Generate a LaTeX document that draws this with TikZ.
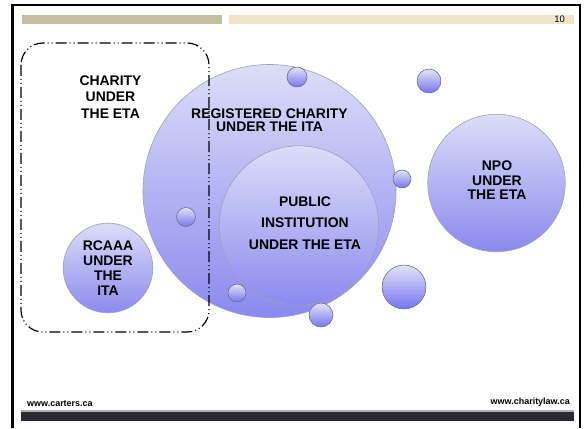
\documentclass[tikz,border=0pt]{standalone}
\usepackage{fontspec}
\setmainfont{Liberation Sans}
\definecolor{bartan}{HTML}{C4BDA0}
\definecolor{barcream}{HTML}{EFE5C9}
\definecolor{footdark}{HTML}{2B2A33}
\definecolor{bubtop}{HTML}{DDDDF9}
\definecolor{bubbot}{HTML}{8A8AEE}
\definecolor{bubline}{HTML}{A0A0B8}

\begin{document}
\begin{tikzpicture}[x=1bp,y=-1bp,
        bubble/.style={circle,draw=bubline,line width=0.6bp,top color=bubtop,bottom color=bubbot,inner sep=0pt,minimum size=#1},
        dot/.style={bubble=#1,draw=bubline!70!black,top color=bubtop!85!white,bottom color=bubbot!85!blue},
        lbl/.style={font=\bfseries\fontsize{14}{#1}\selectfont,align=center,inner sep=0pt,text=black},
        foot/.style={font=\bfseries\fontsize{9}{10}\selectfont,inner sep=0pt,text=black}]
        \useasboundingbox (0,0) rectangle (584,428);

        % slide frame and bars
        \fill (11,4) rectangle (14,428);
        \fill (11,4) rectangle (581,6);
        \fill (579,4) rectangle (581,428);
        \fill[bartan] (22,15) rectangle (222,23.5);
        \fill[barcream] (229,15) rectangle (574,23.5);
        \node[font=\fontsize{9.5}{10}\selectfont,anchor=east,inner sep=0pt] (pagenum) at (565,19) {10};
        \fill[black!30] (21,410) rectangle (574,411.5);
        \fill[footdark] (21,411.5) rectangle (574,421);
        \node[foot,anchor=south west] (leftsite) at (27,406.5) {www.carters.ca};
        \node[foot,anchor=south east] (rightsite) at (570,406.5) {www.charitylaw.ca};

        % circles
        \node[bubble=254] (regchar) at (269.5,191) {};
        \node[bubble=160] (pubinst) at (299,225.5) {};
        \node[bubble=138] (npo) at (496.5,183) {};
        \node[bubble=90] (rcaaa) at (108,268) {};
        \node[dot=20] (dota) at (297,77) {};
        \node[dot=24] (dotb) at (429,81) {};
        \node[dot=18] (dotc) at (402,179) {};
        \node[dot=19] (dotd) at (186,217) {};
        \node[dot=18] (dote) at (237,293) {};
        \node[dot=24] (dotf) at (321,315) {};
        \node[dot=44] (dotg) at (404,287) {};

        % group box
        \draw[line width=1.2bp,rounded corners=22,dash pattern=on 11bp off 3bp on 1bp off 3bp on 1bp off 3bp] (21,43) rectangle (209,332);

        % labels
        \node[lbl=16.7] (charitylbl) at (110.5,97) {CHARITY\\UNDER\\THE ETA};
        \node[lbl=13.3] (regcharlbl) at (269.5,120) {REGISTERED CHARITY\\UNDER THE ITA};
        \node[lbl=21.5] (pubinstlbl) at (305,223) {PUBLIC\\INSTITUTION\\UNDER THE ETA};
        \node[lbl=14.5] (npolbl) at (497,180.5) {NPO\\UNDER\\THE ETA};
        \node[lbl=15] (rcaaalbl) at (108,268.3) {RCAAA\\UNDER\\THE\\ITA};
    \end{tikzpicture}
\end{document}
